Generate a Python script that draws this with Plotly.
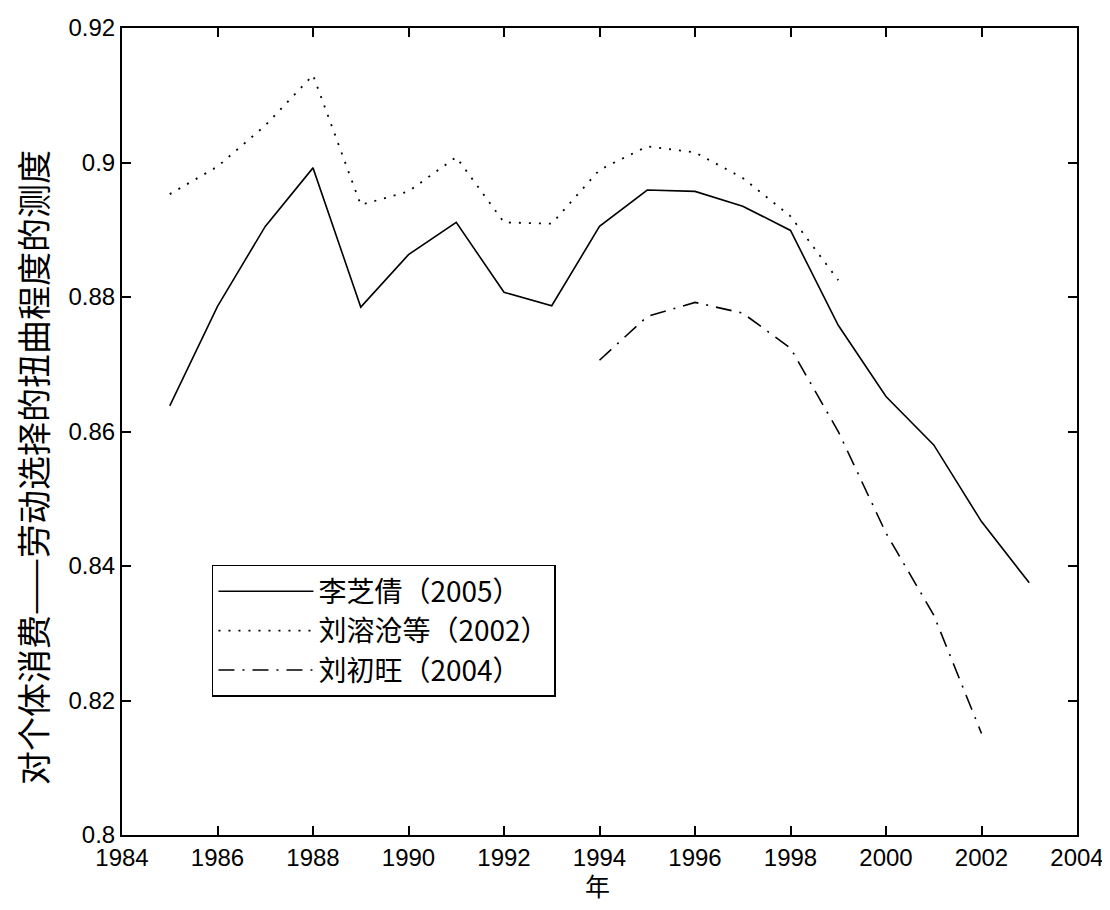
import plotly.graph_objects as go

years_a = list(range(1985, 2004))
vals_a = [0.8638, 0.8786, 0.8905, 0.8992, 0.8785, 0.8863, 0.8911, 0.8807, 0.8787,
          0.8905, 0.8959, 0.8957, 0.8935, 0.8899, 0.8758, 0.8652, 0.8580, 0.8466, 0.8375]

years_b = list(range(1985, 2000))
vals_b = [0.8953, 0.8994, 0.9055, 0.9130, 0.8937, 0.8957, 0.9008, 0.8911, 0.8909,
          0.8989, 0.9024, 0.9015, 0.8977, 0.8920, 0.8825]

years_c = list(range(1994, 2003))
vals_c = [0.8706, 0.8771, 0.8792, 0.8776, 0.8724, 0.8600, 0.8449, 0.8327, 0.8151]

names = ["李芝倩（2005）", "刘溶沧等（2002）", "刘初旺（2004）"]

x_ticks = list(range(1984, 2005, 2))
y_ticks = [0.80, 0.82, 0.84, 0.86, 0.88, 0.90, 0.92]
y_tick_text = ["0.8", "0.82", "0.84", "0.86", "0.88", "0.9", "0.92"]

x_title = "年"
y_title = "对个体消费——劳动选择的扭曲程度的测度"

fig = go.Figure()
fig.add_trace(go.Scatter(x=years_a, y=vals_a, mode="lines", name=names[0],
                         line=dict(color="black", width=1.6)))
fig.add_trace(go.Scatter(x=years_b, y=vals_b, mode="lines", name=names[1],
                         line=dict(color="black", width=1.8, dash="2px,8px")))
fig.add_trace(go.Scatter(x=years_c, y=vals_c, mode="lines", name=names[2],
                         line=dict(color="black", width=1.6, dash="16px,8px,2px,8px")))

tickfont = dict(family="Liberation Sans, Arial, sans-serif", size=24, color="black")
cjk = "Noto Sans CJK SC, sans-serif"

fig.update_layout(
    width=1102, height=902,
    margin=dict(l=114, r=33, t=20, b=75),
    paper_bgcolor="white", plot_bgcolor="white",
    showlegend=True,
    legend=dict(x=0.0942, y=0.3346, xanchor="left", yanchor="top",
                bordercolor="black", borderwidth=1.5, bgcolor="white",
                font=dict(family=cjk, size=28, color="black"),
                itemwidth=95, tracegroupgap=0),
    xaxis=dict(range=[1984, 2004], tickvals=x_ticks, ticks="inside", ticklen=9,
               tickwidth=1.5, tickcolor="black", showline=True, linecolor="black",
               linewidth=2, mirror="ticks", showgrid=False, zeroline=False,
               tickfont=tickfont, automargin=False),
    yaxis=dict(range=[0.8, 0.92], tickvals=y_ticks, ticktext=y_tick_text,
               ticks="inside", ticklen=9, tickwidth=1.5, tickcolor="black",
               showline=True, linecolor="black", linewidth=2, mirror="ticks",
               showgrid=False, zeroline=False, tickfont=tickfont, automargin=False),
    annotations=[
        dict(text=x_title, xref="paper", yref="paper", x=0.4984, y=0,
             xanchor="center", yanchor="middle", yshift=-50, showarrow=False,
             font=dict(family=cjk, size=25, color="black")),
        dict(text=y_title, xref="paper", yref="paper", x=0, y=0.4548,
             xanchor="center", yanchor="middle", xshift=-89, textangle=-90,
             showarrow=False, font=dict(family=cjk, size=34, color="black")),
    ],
)

fig.write_html("out.html")
